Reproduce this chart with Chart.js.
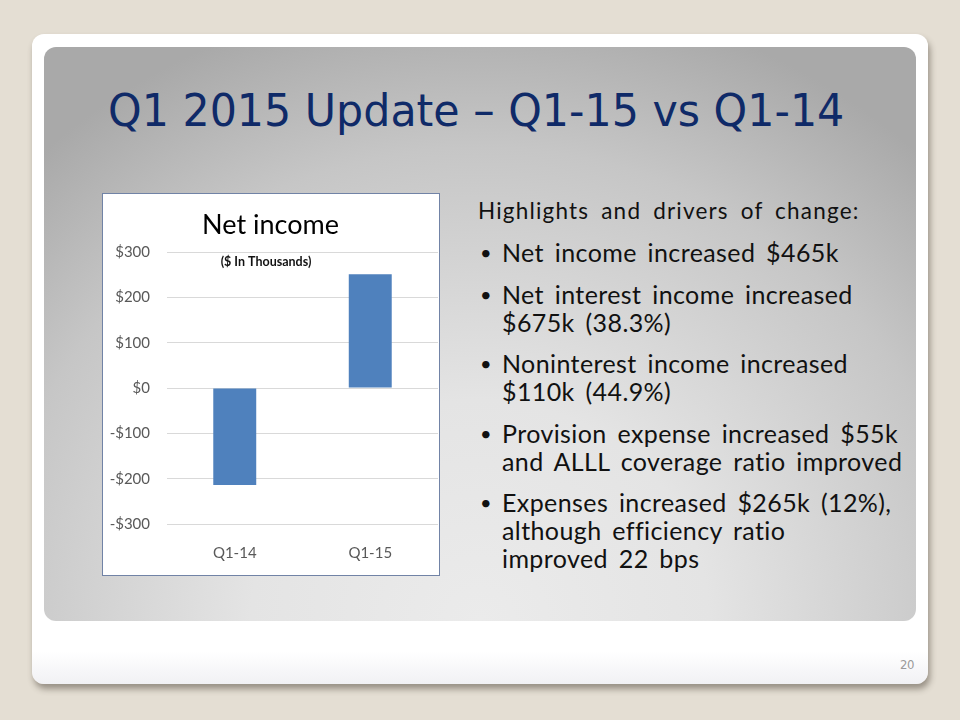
<!DOCTYPE html>
<html>
<head>
<meta charset="utf-8">
<script src="https://cdn.jsdelivr.net/npm/chart.js@4"></script>
<style>
  html, body { margin: 0; padding: 0; }
  body {
    width: 960px; height: 720px; overflow: hidden; position: relative;
    background: #e4ded3;
    font-family: Lato, "Open Sans", sans-serif;
  }
  .card {
    position: absolute; left: 32px; top: 34px; width: 896px; height: 650px;
    background: linear-gradient(to bottom, #ffffff 0%, #ffffff 95%, #f1f1f4 100%);
    border-radius: 12px;
    box-shadow: 2px 5px 6px rgba(60, 50, 40, 0.45);
  }
  .panel {
    position: absolute; left: 44px; top: 47px; width: 872px; height: 574px;
    border-radius: 12px;
    background: radial-gradient(ellipse 75% 110% at 50% 100%, #ebebeb 0%, #e4e4e4 35%, #c6c6c6 75%, #a9a9a9 100%);
  }
  .title {
    position: absolute; left: 108px; top: 81px; margin: 0;
    font-family: "DejaVu Sans", sans-serif; font-weight: normal;
    font-size: 45px; line-height: 60px; color: #0f2a68; white-space: nowrap;
    transform: scaleX(0.95); transform-origin: 0 0;
  }
  .chart-box {
    position: absolute; left: 102px; top: 193px; width: 338px; height: 383px;
    box-sizing: border-box; border: 1px solid #7183a6; background: #ffffff;
  }
  .chart-box canvas { display: block; }
  .notes {
    position: absolute; left: 478px; top: 196px; width: 450px; color: #111111;
    white-space: nowrap;
  }
  .notes .head {
    font-size: 22.5px; line-height: 30px; word-spacing: 5px; letter-spacing: 1.2px; margin: 0;
  }
  .notes ul { list-style: none; margin: 0; padding: 0; }
  .notes li {
    position: relative; padding-left: 24px; font-size: 25px; line-height: 28px;
    word-spacing: 4px; letter-spacing: 0.4px; margin-top: 13.5px;
  }
  .notes li:first-child { margin-top: 12px; }
  .notes li::before {
    content: "\2022"; position: absolute; left: 2px; top: 0; font-size: 20px;
  }
  .pagenum {
    position: absolute; left: 900px; top: 657px; font-size: 13px; color: #9a9a9a;
    font-family: "DejaVu Sans Condensed", sans-serif; letter-spacing: -0.5px;
  }
</style>
</head>
<body>
<div class="card"></div>
<div class="panel"></div>
<h1 class="title">Q1 2015 Update – Q1-15 vs Q1-14</h1>

<div class="chart-box"><canvas id="netIncomeChart" width="336" height="381"></canvas></div>

<div class="notes">
  <p class="head">Highlights and drivers of change:</p>
  <ul>
    <li>Net income increased $465k</li>
    <li>Net interest income increased<br>$675k (38.3%)</li>
    <li>Noninterest income increased<br>$110k (44.9%)</li>
    <li>Provision expense increased $55k<br>and ALLL coverage ratio improved</li>
    <li>Expenses increased $265k (12%),<br>although efficiency ratio<br>improved 22 bps</li>
  </ul>
</div>
<div class="pagenum">20</div>

<script>
// chart data
const quarters = ['Q1-14', 'Q1-15'];
const netIncome = [-214, 251];
const yTicks = [-300, -200, -100, 0, 100, 200, 300];

const chartTitle = 'Net income';
const chartNote = '($ In Thousands)';

function formatDollars(v) {
    return v < 0 ? '-$' + Math.abs(v) : '$' + v;
}

// small caption drawn inside the plot, under the top gridline
const notePlugin = {
    id: 'notePlugin',
    afterDatasetsDraw(chart) {
        const ctx = chart.ctx;
        ctx.save();
        ctx.font = 'bold 12.5px Lato, sans-serif';
        ctx.fillStyle = '#111111';
        ctx.textAlign = 'center';
        ctx.textBaseline = 'middle';
        ctx.fillText(chartNote, chart.width / 2 - 5, chart.chartArea.top + 10);
        ctx.restore();
    }
};

const ctx = document.getElementById('netIncomeChart').getContext('2d');
new Chart(ctx, {
    type: 'bar',
    data: {
        labels: quarters,
        datasets: [{
            data: netIncome,
            backgroundColor: '#4f81bd',
            borderWidth: 0,
            categoryPercentage: 1,
            barPercentage: 0.317
        }]
    },
    options: {
        responsive: false,
        animation: false,
        layout: { padding: { left: 0, right: 1, top: 0, bottom: 0 } },
        plugins: {
            legend: { display: false },
            tooltip: { enabled: false },
            title: {
                display: true,
                text: chartTitle,
                color: '#000000',
                font: { family: 'Lato, sans-serif', size: 27, weight: 'normal', lineHeight: 1.2 },
                padding: { top: 15, bottom: 10.6 }
            }
        },
        scales: {
            x: {
                grid: { display: false, drawTicks: false },
                border: { display: false },
                ticks: {
                    color: '#595959',
                    font: { family: 'Lato, sans-serif', size: 15 },
                    padding: 20
                },
                afterFit(scale) { scale.height = 51; }
            },
            y: {
                min: -300,
                max: 300,
                afterBuildTicks(scale) {
                    scale.ticks = yTicks.map(v => ({ value: v }));
                },
                grid: { color: '#d9d9d9', lineWidth: 1, drawTicks: false },
                border: { display: false },
                ticks: {
                    color: '#595959',
                    font: { family: 'Lato, sans-serif', size: 15 },
                    padding: 17,
                    callback: v => formatDollars(v)
                },
                afterFit(scale) { scale.width = 64; }
            }
        }
    },
    plugins: [notePlugin]
});
</script>
</body>
</html>
